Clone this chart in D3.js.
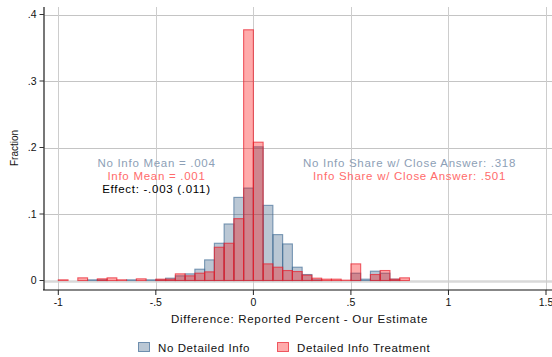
<!DOCTYPE html>
<html><head><meta charset="utf-8">
<script src="https://cdn.jsdelivr.net/npm/d3@7"></script>
<style>body{margin:0;background:#fff}svg{display:block;font-family:"Liberation Sans",Arial,Helvetica,sans-serif}</style>
</head><body><svg id="c" width="552" height="357"></svg>
<script>
const binStarts = [-1.00,-0.95,-0.90,-0.85,-0.80,-0.75,-0.70,-0.65,-0.60,-0.55,-0.50,-0.45,-0.40,-0.35,-0.30,-0.25,-0.20,-0.15,-0.10,-0.05,0.00,0.05,0.10,0.15,0.20,0.25,0.30,0.35,0.40,0.45,0.50,0.55,0.60,0.65,0.70,0.75];
const noInfo =    [0,0,0,0.001,0.001,0,0,0.001,0,0.001,0.001,0.0035,0.007,0.010,0.017,0.031,0.056,0.085,0.125,0.139,0.201,0.113,0.069,0.055,0.020,0.009,0.001,0,0,0,0.011,0.002,0.014,0.011,0.002,0];
const info =      [0.001,0,0.004,0,0.0025,0.004,0.001,0,0.0025,0,0.002,0.002,0.010,0.007,0.011,0.013,0.050,0.056,0.093,0.377,0.208,0.025,0.020,0.015,0.0135,0.008,0.0035,0.002,0.002,0.0005,0.025,0,0.009,0.015,0.002,0.004];
const binWidth = 0.05;
const xTicks = [-1,-0.5,0,0.5,1,1.5];
const xTickLabels = ["-1","-.5","0",".5","1","1.5"];
const yTicks = [0,0.1,0.2,0.3,0.4];
const yTickLabels = ["0",".1",".2",".3",".4"];
const seriesNames = ["No Detailed Info","Detailed Info Treatment"];
const annotLeft = ["No Info Mean = .004","Info Mean = .001","Effect: -.003 (.011)"];
const annotRight = ["No Info Share w/ Close Answer: .318","Info Share w/ Close Answer: .501"];

const svg = d3.select("#c");
const L = 44, R = 552, T = 7, B = 290;
const x = d3.scaleLinear().domain([-1,1.5]).range([58.3,546]);
const y = d3.scaleLinear().domain([0,0.4]).range([280.5,14.5]);
const FS = 11.5, LS = 0.72;

// gridlines
const g = svg.append("g");
yTicks.forEach(t=>{
  g.append("line").attr("x1",L).attr("x2",R)
   .attr("y1",Math.round(y(t))+0.5).attr("y2",Math.round(y(t))+0.5)
   .attr("stroke", t===0 ? "#d9d9d9" : "#c4c4c4")
   .attr("stroke-width", t===0 ? 2.5 : 1);
});
xTicks.forEach(t=>{
  g.append("line").attr("y1",T).attr("y2",B)
   .attr("x1",Math.round(x(t))+0.5).attr("x2",Math.round(x(t))+0.5)
   .attr("stroke","#cdcdcd").attr("stroke-width",1);
});

function bars(vals, fill, fo, stroke, so){
  svg.append("g").selectAll("rect")
    .data(binStarts.map((s,i)=>({s, v: vals[i]})).filter(d=>d.v>0))
    .join("rect")
    .attr("x", d=>x(d.s)).attr("width", d=>x(d.s+binWidth)-x(d.s))
    .attr("y", d=>y(d.v)).attr("height", d=>y(0)-y(d.v))
    .attr("fill", fill).attr("fill-opacity", fo)
    .attr("stroke", stroke).attr("stroke-opacity", so).attr("stroke-width",1.1);
}
bars(noInfo, "#1a476f", 0.3, "#3e6a94", 0.65);
bars(info, "#ff0000", 0.33, "#e8202c", 0.7);

// y axis
svg.append("line").attr("x1",L).attr("x2",L).attr("y1",T).attr("y2",B)
  .attr("stroke","#555").attr("stroke-width",1.6);
const yAx = svg.append("g");
yTicks.forEach((t,i)=>{
  yAx.append("line").attr("x1",L-4.5).attr("x2",L).attr("y1",y(t)).attr("y2",y(t)).attr("stroke","#333");
  yAx.append("text").attr("x",36.5).attr("y",y(t)).attr("dy","0.36em")
    .attr("text-anchor","end").attr("font-size",10.5).attr("fill","#111").text(yTickLabels[i]);
});
svg.append("text").attr("transform","translate(17.5,148) rotate(-90)")
  .attr("text-anchor","middle").attr("font-size",10).attr("fill","#111").text("Fraction");

// x axis
svg.append("line").attr("x1",L-1).attr("x2",R).attr("y1",B).attr("y2",B)
  .attr("stroke","#111").attr("stroke-width",1.2);
const xAx = svg.append("g");
xTicks.forEach((t,i)=>{
  xAx.append("line").attr("x1",x(t)).attr("x2",x(t)).attr("y1",B).attr("y2",B+5).attr("stroke","#222");
  xAx.append("text").attr("x",x(t)).attr("y",306).attr("text-anchor","middle")
    .attr("font-size",10.5).attr("fill","#111").text(xTickLabels[i]);
});
svg.append("text").attr("x",299.5).attr("y",323).attr("text-anchor","middle")
  .attr("font-size",FS).attr("letter-spacing",LS).attr("fill","#111").text("Difference: Reported Percent - Our Estimate");

// annotations
const aCols = ["#8da0b6","#ff6b6b","#000"];
annotLeft.forEach((t,i)=>{
  svg.append("text").attr("x",156.5).attr("y",166.5+i*13).attr("text-anchor","middle")
   .attr("font-size",FS).attr("letter-spacing",LS).attr("fill",aCols[i]).text(t);
});
annotRight.forEach((t,i)=>{
  svg.append("text").attr("x",409.5).attr("y",166.5+i*13).attr("text-anchor","middle")
   .attr("font-size",FS).attr("letter-spacing",LS).attr("fill",aCols[i]).text(t);
});

// legend
const leg = [{x:138.5, tx:158, fill:"#1a476f", fo:0.3, st:"#3e6a94"},{x:277.5, tx:297, fill:"#ff0000", fo:0.33, st:"#e8202c"}];
leg.forEach((l,i)=>{
  svg.append("rect").attr("x",l.x).attr("y",342.5).attr("width",11).attr("height",9)
    .attr("fill",l.fill).attr("fill-opacity",l.fo).attr("stroke",l.st).attr("stroke-opacity",0.7);
  svg.append("text").attr("x",l.tx).attr("y",351.5).attr("font-size",FS).attr("letter-spacing",0.6).attr("fill","#111").text(seriesNames[i]);
});
</script></body></html>
